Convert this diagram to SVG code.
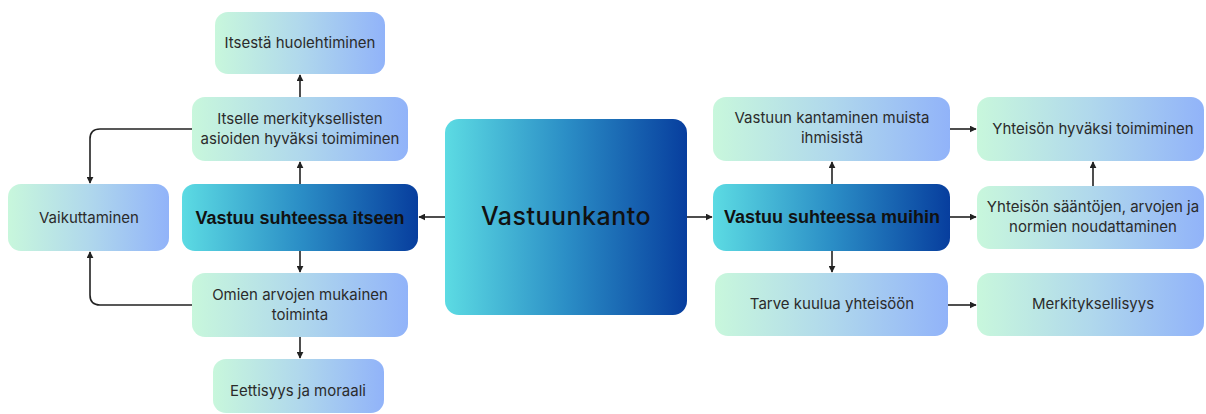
<svg xmlns="http://www.w3.org/2000/svg" width="1206" height="414" viewBox="0 0 1206 414">
<defs>
<linearGradient id="gl" x1="0" y1="0" x2="1" y2="0">
<stop offset="0" stop-color="#c8f7dc"/>
<stop offset="0.5" stop-color="#b0d8ec"/>
<stop offset="1" stop-color="#91b3f9"/>
</linearGradient>
<linearGradient id="gd" x1="0" y1="0" x2="1" y2="0">
<stop offset="0" stop-color="#5cdbe3"/>
<stop offset="0.5" stop-color="#2b8ec6"/>
<stop offset="1" stop-color="#073e9e"/>
</linearGradient>
<marker id="ah" viewBox="0 0 10 10" refX="9" refY="5" markerWidth="7" markerHeight="7" markerUnits="userSpaceOnUse" orient="auto">
<path d="M0,0 L10,5 L0,10 z" fill="#222"/>
</marker>
</defs>
<style>
.l{fill:url(#gl)}
.d{fill:url(#gd)}
.t{font-family:Inter,"Noto Sans","Liberation Sans",sans-serif;font-size:15px;fill:#2b2b2b;text-anchor:middle}
.b{font-family:"Liberation Sans",Arial,sans-serif;font-weight:bold;font-size:18px;fill:#111;text-anchor:middle}
.c{font-family:Inter,"Noto Sans",sans-serif;font-weight:500;font-size:25px;fill:#111;text-anchor:middle;letter-spacing:0.5px}
.e{fill:none;stroke:#222;stroke-width:1.6;marker-end:url(#ah)}
</style>
<rect width="1206" height="414" fill="#fff"/>
<g id="connectors">
<path class="e" d="M300,97 V75"/>
<path class="e" d="M300,184 V162"/>
<path class="e" d="M300,251 V272"/>
<path class="e" d="M300,337 V358"/>
<path class="e" d="M192,129 H100 Q90,129 90,139 V183"/>
<path class="e" d="M192,305 H100 Q90,305 90,295 V252"/>
<path class="e" d="M445,217 H419"/>
<path class="e" d="M687,217 H712"/>
<path class="e" d="M832,184 V162"/>
<path class="e" d="M832,251 V272"/>
<path class="e" d="M950,129 H976"/>
<path class="e" d="M950,217 H976"/>
<path class="e" d="M948,305 H976"/>
<path class="e" d="M1093,186 V162"/>
</g>
<g id="n-itsesta"><rect class="l" x="215" y="12" width="170" height="62" rx="13"/><text class="t" x="300" y="48">Itsestä huolehtiminen</text></g>
<g id="n-itselle"><rect class="l" x="192" y="97" width="216" height="64" rx="13"/><text class="t" x="300" y="124">Itselle merkityksellisten</text><text class="t" x="300" y="144">asioiden hyväksi toimiminen</text></g>
<g id="n-vaikuttaminen"><rect class="l" x="8" y="184" width="161" height="67" rx="13"/><text class="t" x="89" y="223">Vaikuttaminen</text></g>
<g id="n-itseen"><rect class="d" x="182" y="184" width="236" height="67" rx="13"/><text class="b" x="300" y="224">Vastuu suhteessa itseen</text></g>
<g id="n-omien"><rect class="l" x="192" y="273" width="216" height="64" rx="13"/><text class="t" x="300" y="300">Omien arvojen mukainen</text><text class="t" x="300" y="320">toiminta</text></g>
<g id="n-eettisyys"><rect class="l" x="213" y="359" width="171" height="54" rx="13"/><text class="t" x="298" y="396">Eettisyys ja moraali</text></g>
<g id="n-vastuunkanto"><rect class="d" x="445" y="119" width="242" height="196" rx="14"/><text class="c" x="566" y="225">Vastuunkanto</text></g>
<g id="n-kantaminen"><rect class="l" x="713" y="97" width="237" height="64" rx="13"/><text class="t" x="832" y="123">Vastuun kantaminen muista</text><text class="t" x="832" y="143">ihmisistä</text></g>
<g id="n-yhteison-hyvaksi"><rect class="l" x="977" y="97" width="227" height="64" rx="13"/><text class="t" x="1093" y="134">Yhteisön hyväksi toimiminen</text></g>
<g id="n-muihin"><rect class="d" x="713" y="184" width="237" height="67" rx="13"/><text class="b" x="832" y="223">Vastuu suhteessa muihin</text></g>
<g id="n-saannot"><rect class="l" x="977" y="186" width="227" height="63" rx="13"/><text class="t" x="1093" y="212">Yhteisön sääntöjen, arvojen ja</text><text class="t" x="1093" y="232">normien noudattaminen</text></g>
<g id="n-tarve"><rect class="l" x="715" y="273" width="233" height="63" rx="13"/><text class="t" x="832" y="309">Tarve kuulua yhteisöön</text></g>
<g id="n-merkityksellisyys"><rect class="l" x="977" y="273" width="227" height="63" rx="13"/><text class="t" x="1093" y="309">Merkityksellisyys</text></g>
</svg>
